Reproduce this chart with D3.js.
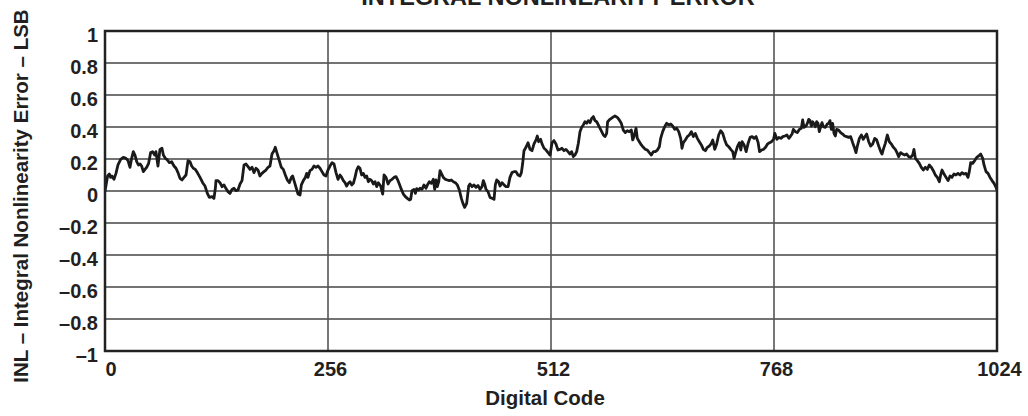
<!DOCTYPE html>
<html><head><meta charset="utf-8">
<script src="https://cdn.jsdelivr.net/npm/d3@7"></script>
<style>
html,body{margin:0;padding:0;background:#fff;}
svg{display:block;font-family:"Liberation Sans",Arial,Helvetica,sans-serif;font-weight:bold;}
</style></head>
<body>
<svg id="chart" width="1028" height="416"></svg>
<script>
// ---- data ----
const chartTitle = "INTEGRAL NONLINEARITY ERROR";
const xTitle = "Digital Code";
const yTitle = "INL \u2013 Integral Nonlinearity Error \u2013 LSB";
const xTicks = [0, 256, 512, 768, 1024];
const yTicks = [-1, -0.8, -0.6, -0.4, -0.2, 0, 0.2, 0.4, 0.6, 0.8, 1];

// [code, INL (LSB)], one array per quarter of the code range
const inlQ1 = [[0,0.00],[1,0.03],[3,0.094],[5,0.106],[6.5,0.085],[8,0.094],[10.3,0.073],[12.6,0.11],[14.9,0.163],[18,0.198],[21,0.21],[24.1,0.204],[26.4,0.19],[28.7,0.148],[30.6,0.204],[32.5,0.246],[34.4,0.225],[36.4,0.183],[38.3,0.163],[40.2,0.169],[42.1,0.156],[44,0.121],[45.9,0.135],[47.8,0.148],[50.1,0.173],[52.4,0.24],[54.7,0.246],[57,0.225],[58.5,0.246],[60.8,0.156],[63.1,0.26],[65.4,0.267],[67,0.225],[69.3,0.204],[71.6,0.194],[73.9,0.177],[76.5,0.183],[79.2,0.156],[81.5,0.142],[83.8,0.115],[86.1,0.079],[88.4,0.069],[90.7,0.085],[93,0.1],[95.3,0.19],[97.6,0.183],[99.5,0.156],[101.4,0.142],[103.7,0.135],[106,0.115],[109.1,0.085],[112.1,0.052],[114.8,0.031],[117.5,-0.015],[119.8,-0.04],[122.8,-0.035],[125.1,-0.046],[126.7,0.017],[127.4,0.065],[129.7,0.065],[132,0.052],[134.3,0.027],[136.6,0.038],[138.9,0.015],[141.2,-0.004],[143.5,-0.015],[145.8,0.01],[148.1,0.017],[150.4,0.002],[152.7,0.006],[155,0.044],[157.3,0.065],[159.6,0.163],[161.9,0.169],[164.2,0.152],[166.5,0.135],[168.8,0.148],[171,0.115],[173.3,0.142],[175.6,0.131],[177.9,0.094],[180.2,0.11],[182.5,0.121],[184.8,0.131],[187.1,0.148],[189.4,0.156],[191.7,0.231],[194,0.252],[195.5,0.273],[197.8,0.231],[200.1,0.19],[202.4,0.148],[204.7,0.135],[207,0.1],[209.3,0.069],[211.6,0.052],[213.9,0.085],[215.4,0.094],[217,0.065],[219.3,0.023],[221.6,-0.019],[223.9,-0.025],[225.4,0.038],[227.7,0.065],[230,0.085],[231.5,0.11],[233,0.085],[235.3,0.127],[237.6,0.135],[239.9,0.156],[242.2,0.148],[244.5,0.156],[246.8,0.142],[249.1,0.121],[251.4,0.1],[253.7,0.094],[256,0.131]];
const inlQ2 = [[258.3,0.156],[260.6,0.177],[262.9,0.169],[265.2,0.115],[267.5,0.073],[269.8,0.1],[271.7,0.085],[273.6,0.065],[275.5,0.052],[277.4,0.031],[279.3,0.048],[281.3,0.058],[283.2,0.038],[285.1,0.048],[287,0.085],[288.9,0.131],[290.8,0.152],[292.7,0.142],[294.6,0.1],[296.6,0.11],[298.5,0.085],[300.4,0.094],[302.3,0.058],[304.2,0.073],[306.1,0.065],[308,0.044],[310,0.058],[311.9,0.027],[313.8,0.052],[316.5,0.031],[318.8,-0.019],[320.3,0.1],[322.6,0.085],[324.9,0.044],[327.2,0.065],[329.5,0.073],[331.8,0.085],[334.1,0.09],[335.7,0.073],[337.9,0.044],[340.2,0.01],[342.5,-0.019],[344.8,-0.035],[347.1,-0.046],[349.4,-0.056],[350.9,-0.052],[352.4,0.002],[354.7,0.01],[356.3,-0.015],[357.8,0.015],[360.1,0.006],[361.6,0.017],[363.9,0.01],[366.2,0.038],[368.5,0.017],[370.1,0.038],[372.3,0.058],[374.6,0.048],[376.9,0.073],[378.5,0.01],[380,0.069],[381.5,0.027],[383.1,0.058],[384.6,0.127],[386.1,0.11],[388.4,0.085],[390.7,0.073],[393,0.069],[395.3,0.065],[397.6,0.069],[399.9,0.058],[402.2,0.052],[404.5,0.038],[406.8,0.006],[409.1,-0.046],[410.9,-0.077],[412.9,-0.102],[415.2,-0.077],[417.5,0.031],[419,0.044],[421.3,0.027],[423.6,0.038],[425.9,0.023],[428.2,0.035],[430.5,0.01],[432.8,0.027],[434.3,0.065],[435.8,0.044],[437.4,0.01],[439.7,-0.004],[442,-0.04],[444.3,-0.046],[446.6,-0.052],[448.1,0.038],[449.7,0.069],[451.9,0.058],[453.5,0.031],[455.8,0.052],[458.1,0.038],[460.4,0.027],[462.7,0.027],[464.9,0.085],[467.2,0.115],[469.5,0.121],[471.8,0.121],[474.1,0.1],[476.4,0.094],[478,0.115],[479.5,0.173],[481,0.252],[483.3,0.273],[485.6,0.302],[487.9,0.26],[490.2,0.252],[492.5,0.294],[494.8,0.319],[496.3,0.344],[497.8,0.308],[500.1,0.323],[501.7,0.294],[504,0.267],[506.3,0.256],[508.6,0.24],[510.9,0.225]];
const inlQ3 = [[513.2,0.302],[515.4,0.315],[517.7,0.294],[520,0.256],[522.3,0.26],[524.6,0.267],[526.9,0.252],[529.2,0.26],[531.5,0.246],[533.8,0.231],[535.7,0.246],[537.6,0.215],[539.5,0.225],[541.5,0.246],[543.4,0.298],[545.3,0.371],[547.2,0.398],[549.1,0.413],[551,0.433],[552.9,0.423],[554.9,0.44],[556.8,0.427],[558.7,0.454],[560.6,0.465],[562.5,0.44],[564.4,0.433],[566.3,0.413],[568.3,0.392],[570.2,0.371],[572.1,0.35],[574,0.34],[575.9,0.36],[577,0.433],[579.7,0.448],[582.8,0.46],[585.4,0.469],[588.1,0.46],[590.4,0.444],[592.7,0.423],[595,0.381],[597.3,0.365],[599.6,0.377],[601.9,0.371],[604.2,0.381],[605.8,0.319],[607.3,0.34],[609.6,0.392],[611.1,0.329],[613.4,0.308],[615.7,0.288],[618,0.273],[620.3,0.26],[622.6,0.256],[624.9,0.24],[627.2,0.225],[629.5,0.246],[631.8,0.246],[634.1,0.256],[636.4,0.277],[637.9,0.329],[640.2,0.371],[642.5,0.402],[644.8,0.423],[647.1,0.413],[649.4,0.419],[651.7,0.406],[654,0.385],[656.3,0.392],[658.6,0.371],[660.9,0.329],[662.4,0.267],[663.9,0.302],[666.2,0.319],[668.5,0.34],[670.8,0.35],[673.1,0.371],[675.4,0.34],[677.7,0.36],[680,0.329],[682.3,0.308],[684.6,0.288],[686.9,0.26],[689.2,0.252],[691.5,0.273],[693.8,0.281],[696.1,0.298],[697.7,0.319],[700,0.26],[702.2,0.294],[704.5,0.35],[706.8,0.377],[709.1,0.36],[711.4,0.319],[713.7,0.288],[716,0.277],[718.3,0.26],[720.6,0.246],[722.2,0.204],[723.7,0.235],[726,0.277],[728.3,0.302],[729.9,0.256],[731.4,0.308],[733.7,0.288],[736,0.246],[738.3,0.298],[740.6,0.335],[742.9,0.34],[745.2,0.329],[747.5,0.34],[749.8,0.302],[751.4,0.246],[753.7,0.256],[756,0.26],[758.3,0.273],[760.6,0.294],[762.9,0.302],[765.2,0.308],[767.5,0.323]];
const inlQ4 = [[769,0.36],[771.3,0.323],[773.6,0.335],[775.9,0.329],[778.2,0.34],[780.5,0.344],[782.8,0.35],[785.1,0.329],[786.6,0.34],[788.7,0.356],[790.2,0.385],[792.5,0.371],[794.8,0.365],[797.1,0.385],[799.4,0.392],[800.9,0.444],[802.4,0.398],[804.7,0.406],[806.3,0.423],[807.8,0.448],[809.3,0.44],[810.9,0.406],[812.4,0.433],[813.9,0.419],[815.4,0.402],[817,0.433],[818.5,0.423],[820,0.371],[821.6,0.402],[823.1,0.427],[824.6,0.402],[826.9,0.398],[829.2,0.419],[830.8,0.423],[832.3,0.44],[833.8,0.385],[835.3,0.423],[836.9,0.36],[838.4,0.344],[839.9,0.385],[842.2,0.381],[844.5,0.365],[846.8,0.356],[849.1,0.344],[851.4,0.34],[853.7,0.335],[856,0.34],[858.3,0.302],[860.6,0.267],[862.1,0.24],[863.7,0.281],[866,0.329],[868.3,0.35],[870.5,0.323],[872.8,0.344],[874.4,0.356],[876.7,0.308],[879,0.281],[881.3,0.294],[883.6,0.329],[885.9,0.319],[888.2,0.281],[890.5,0.246],[892,0.231],[893.5,0.26],[895.8,0.298],[898.1,0.35],[900.4,0.308],[902.7,0.294],[905,0.273],[907.3,0.26],[909.6,0.235],[911.1,0.215],[913.4,0.24],[915.7,0.231],[918,0.225],[920.3,0.231],[922.6,0.215],[924.9,0.21],[927.2,0.225],[928.7,0.26],[930.3,0.204],[932.5,0.19],[934.8,0.173],[937.1,0.148],[939.4,0.131],[941.7,0.148],[944,0.135],[946.3,0.163],[948.6,0.148],[950.9,0.127],[953.2,0.1],[955.5,0.085],[957.8,0.058],[959.3,0.1],[960.9,0.131],[963.2,0.106],[965.5,0.085],[967.8,0.065],[970.1,0.094],[972.3,0.085],[974.6,0.106],[976.9,0.1],[979.2,0.11],[981.5,0.1],[983.8,0.115],[986.1,0.106],[988.4,0.11],[990.7,0.085],[992.2,0.121],[993.8,0.177],[996.1,0.173],[998.4,0.19],[1000.7,0.21],[1003,0.219],[1005.3,0.231],[1007.6,0.204],[1009.1,0.163],[1011.4,0.121],[1013.7,0.11],[1016,0.085],[1018.3,0.065],[1020.6,0.048],[1022.9,0.023],[1024,0.005]];

// ---- layout ----
const plot = {left: 105, right: 997, top: 31, bottom: 351};
const ink = "#231f20";

const svg = d3.select("#chart");
const x = d3.scaleLinear().domain([0, 1024]).range([plot.left, plot.right]);
const y = d3.scaleLinear().domain([-1, 1]).range([plot.bottom, plot.top]);

// grid
const grid = svg.append("g");
grid.selectAll("line.h").data(yTicks.slice(1, -1)).join("line")
  .attr("x1", plot.left).attr("x2", plot.right)
  .attr("y1", d => y(d)).attr("y2", d => y(d))
  .attr("stroke", "#444").attr("stroke-width", 1.4);
grid.selectAll("line.v").data(xTicks.slice(1, -1)).join("line")
  .attr("y1", plot.top).attr("y2", plot.bottom)
  .attr("x1", d => x(d)).attr("x2", d => x(d))
  .attr("stroke", "#555").attr("stroke-width", 1.6);

// line
const data = inlQ1.concat(inlQ2, inlQ3, inlQ4);
svg.append("defs").append("clipPath").attr("id", "clip").append("rect")
  .attr("x", plot.left).attr("y", plot.top)
  .attr("width", plot.right - plot.left).attr("height", plot.bottom - plot.top);
svg.append("path").datum(data)
  .attr("clip-path", "url(#clip)")
  .attr("fill", "none").attr("stroke", "#1a1a1a").attr("stroke-width", 2.8)
  .attr("stroke-linejoin", "round").attr("stroke-linecap", "round")
  .attr("d", d3.line().x(d => x(d[0])).y(d => y(d[1])));

// frame
svg.append("rect")
  .attr("x", plot.left).attr("y", plot.top)
  .attr("width", plot.right - plot.left).attr("height", plot.bottom - plot.top)
  .attr("fill", "none").attr("stroke", "#222").attr("stroke-width", 2.5);

// axes (labels only, via d3 axis generators)
const fmtY = d => (d < 0 ? "\u2013" : "") + String(Math.abs(d));
const yAxis = svg.append("g").attr("transform", `translate(${plot.left},0)`)
  .call(d3.axisLeft(y).tickValues(yTicks).tickFormat(fmtY).tickSize(0).tickPadding(7));
yAxis.select(".domain").remove();
yAxis.selectAll("text").attr("font-size", 20).attr("font-weight", "bold")
  .attr("font-family", "Liberation Sans, Arial, sans-serif").attr("fill", ink)
  .attr("dy", "0.52em");

const xAxis = svg.append("g").attr("transform", `translate(0,${plot.bottom})`)
  .call(d3.axisBottom(x).tickValues(xTicks).tickFormat(d3.format("d")).tickSize(0).tickPadding(11));
xAxis.select(".domain").remove();
xAxis.selectAll("text").attr("font-size", 20).attr("font-weight", "bold")
  .attr("font-family", "Liberation Sans, Arial, sans-serif").attr("fill", ink)
  .attr("dx", (d, i) => i === 0 ? 0 : 2)
  .attr("text-anchor", (d, i) => i === 0 ? "start" : "middle");

// titles (the chart title is clipped by the top edge, as in the reference)
svg.append("text").attr("x", (plot.left + plot.right) / 2 + 7).attr("y", 5)
  .attr("text-anchor", "middle").attr("font-size", 23.5).attr("fill", ink)
  .text(chartTitle);
svg.append("text").attr("x", (plot.left + plot.right) / 2 - 6).attr("y", 405)
  .attr("text-anchor", "middle").attr("font-size", 20.5).attr("fill", ink)
  .text(xTitle);
svg.append("text").attr("transform", "translate(28,196) rotate(-90)")
  .attr("text-anchor", "middle").attr("font-size", 20.5).attr("fill", ink)
  .text(yTitle);
</script>
</body></html>
